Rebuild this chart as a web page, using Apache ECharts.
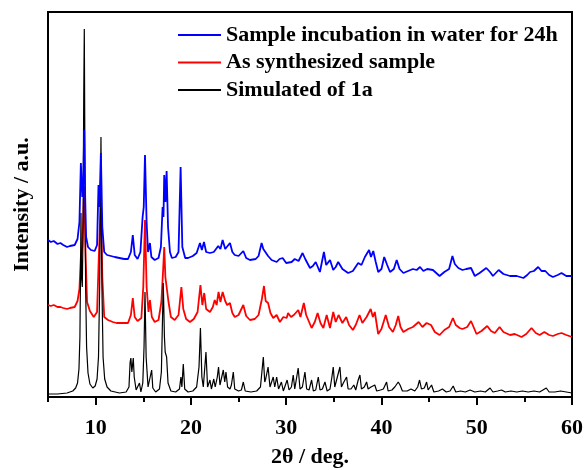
<!DOCTYPE html>
<html>
<head>
<meta charset="utf-8">
<script src="https://cdn.jsdelivr.net/npm/echarts@6/dist/echarts.min.js"></script>
<style>html,body{margin:0;padding:0;background:#fff;}#c{width:585px;height:470px;}</style>
</head>
<body>
<div id="c"></div>
<script>
// Series names (legend order)
const seriesNames = ["Sample incubation in water for 24h", "As synthesized sample", "Simulated of 1a"];
// x-axis tick labels
const majorTicks = [10, 20, 30, 40, 50, 60];
const minorTicks = [5, 15, 25, 35, 45, 55];

// [2θ, intensity (a.u., stacked offset)]
const waterData = [[5.0,157],[5.3,155],[5.6,156],[6.0,153],[6.3,154],[6.6,152],[7.0,150],[7.3,151],[7.5,150],[7.8,152],[8.1,158],[8.3,175],[8.45,234],[8.6,200],[8.7,215],[8.8,267],[8.9,200],[9.0,160],[9.2,150],[9.5,147],[9.9,146],[10.15,152],[10.3,212],[10.4,190],[10.55,244],[10.7,170],[10.9,145],[11.2,142],[11.6,141],[12.0,140],[12.5,139],[13.0,138],[13.4,138],[13.7,145],[13.9,162],[14.1,142],[14.4,138],[14.7,145],[14.93,180],[15.05,190],[15.18,242],[15.35,175],[15.5,145],[15.7,154],[15.85,140],[16.2,137],[16.6,139],[16.85,150],[17.03,190],[17.12,180],[17.2,222],[17.33,195],[17.45,226],[17.6,170],[17.8,145],[18.0,139],[18.4,140],[18.7,145],[18.92,230],[19.1,150],[19.4,139],[19.7,139],[20.2,141],[20.6,144],[20.95,154],[21.15,147],[21.37,155],[21.6,145],[22.0,144],[22.4,145],[22.87,151],[23.1,148],[23.33,157],[23.6,148],[23.8,146],[24.1,154],[24.35,145],[24.6,142],[25.0,141],[25.5,146],[25.8,139],[26.2,137],[26.8,138],[27.1,141],[27.42,154],[27.6,148],[27.77,149],[28.1,141],[28.47,137],[29.0,135],[29.3,138],[29.63,139],[30.0,134],[30.57,135],[30.9,138],[31.3,136],[31.72,144],[32.0,138],[32.5,129],[32.8,131],[33.1,135],[33.54,125],[33.96,145],[34.2,132],[34.6,137],[34.94,127],[35.2,130],[35.46,135],[35.9,128],[36.5,124],[37.0,126],[37.56,134],[37.9,132],[38.26,140],[38.45,138],[38.7,147],[38.9,140],[39.14,146],[39.4,135],[39.66,125],[40.0,128],[40.29,140],[40.6,132],[40.9,125],[41.3,128],[41.6,137],[41.9,128],[42.3,124],[42.8,126],[43.3,128],[43.7,127],[44.05,130],[44.4,126],[44.8,128],[45.4,127],[46.1,121],[46.6,125],[47.1,128],[47.45,141],[47.7,133],[48.07,129],[48.5,127],[48.9,128],[49.4,129],[49.8,121],[50.3,124],[51.0,129],[51.4,125],[51.7,121],[52.3,127],[52.8,123],[53.5,121],[54.2,121],[54.9,119],[55.3,122],[55.6,125],[56.0,126],[56.45,130],[56.8,126],[57.2,126],[57.6,122],[58.0,120],[58.5,122],[58.9,124],[59.4,121],[60.0,121]];

const synthData = [[5.0,92],[5.3,91],[5.6,92],[6.0,90],[6.3,90],[6.6,89],[7.0,88],[7.3,89],[7.5,88],[7.8,90],[8.1,96],[8.3,108],[8.45,140],[8.6,150],[8.8,210],[8.95,140],[9.1,95],[9.4,86],[9.8,80],[10.15,85],[10.3,130],[10.55,200],[10.7,120],[10.9,80],[11.3,77],[11.8,75],[12.2,74],[12.8,74],[13.4,74],[13.7,82],[13.9,99],[14.1,80],[14.4,76],[14.8,79],[15.0,110],[15.18,177],[15.35,110],[15.55,85],[15.7,97],[15.9,80],[16.2,75],[16.6,77],[16.9,95],[17.1,130],[17.2,150],[17.32,120],[17.45,119],[17.65,95],[17.9,80],[18.3,77],[18.7,82],[19.0,110],[19.2,88],[19.5,78],[19.9,75],[20.3,78],[20.7,85],[21.0,112],[21.2,92],[21.4,104],[21.6,88],[22.0,85],[22.3,90],[22.5,97],[22.7,92],[22.9,105],[23.1,95],[23.33,105],[23.6,96],[23.8,92],[24.1,94],[24.35,84],[24.6,80],[25.0,82],[25.5,92],[25.8,81],[26.2,77],[26.7,78],[27.1,82],[27.45,98],[27.67,111],[27.85,96],[28.1,94],[28.35,84],[28.64,79],[29.0,82],[29.34,75],[29.7,80],[30.05,79],[30.2,84],[30.5,80],[30.8,82],[31.27,87],[31.5,80],[31.85,94],[32.1,82],[32.67,69],[33.0,75],[33.3,84],[33.6,74],[33.9,69],[34.25,82],[34.6,69],[34.94,85],[35.2,75],[35.5,82],[35.9,74],[36.3,80],[36.6,72],[37.0,67],[37.3,72],[37.7,82],[38.0,74],[38.44,80],[38.87,88],[39.1,80],[39.3,85],[39.66,63],[40.0,68],[40.45,82],[40.8,70],[41.2,65],[41.5,72],[41.76,81],[42.0,70],[42.3,65],[42.8,68],[43.3,70],[43.9,75],[44.3,70],[44.74,74],[45.2,72],[45.6,65],[46.1,62],[46.6,67],[47.1,70],[47.5,79],[47.8,72],[48.2,69],[48.5,68],[49.0,70],[49.4,76],[49.98,63],[50.5,66],[51.1,71],[51.5,66],[51.9,64],[52.4,70],[52.8,65],[53.5,62],[54.0,63],[54.7,60],[55.2,63],[55.75,69],[56.2,64],[56.6,62],[57.1,65],[57.6,62],[58.0,61],[58.5,63],[58.9,64],[59.4,62],[60.0,60]];

const simData = [[5.0,3],[6.0,3],[7.0,4],[7.6,6],[7.9,9],[8.1,14],[8.25,28],[8.35,60],[8.42,130],[8.46,184],[8.52,120],[8.6,110],[8.68,170],[8.75,300],[8.81,368],[8.88,230],[8.95,110],[9.05,50],[9.2,24],[9.4,13],[9.7,9],[9.95,11],[10.15,18],[10.3,40],[10.42,110],[10.56,260],[10.66,110],[10.78,40],[10.95,18],[11.2,10],[11.6,6],[12.5,4],[13.2,5],[13.5,10],[13.62,35],[13.7,39],[13.8,25],[13.95,39],[14.05,20],[14.25,7],[14.45,6],[14.6,14],[14.75,5],[14.95,14],[15.08,50],[15.18,105],[15.3,40],[15.5,10],[15.7,9],[15.88,27],[16.0,9],[16.3,5],[16.7,8],[16.9,25],[17.0,70],[17.1,114],[17.22,60],[17.3,45],[17.45,40],[17.6,14],[17.9,6],[18.4,5],[18.8,8],[18.95,20],[19.05,10],[19.2,33],[19.35,8],[19.7,5],[20.2,6],[20.6,10],[20.85,30],[21.0,69],[21.15,20],[21.3,10],[21.58,45],[21.75,10],[22.0,17],[22.15,8],[22.4,18],[22.55,10],[22.77,20],[22.9,30],[23.05,12],[23.2,10],[23.4,27],[23.55,15],[23.68,25],[23.85,10],[24.1,8],[24.25,12],[24.45,25],[24.6,8],[25.0,6],[25.3,7],[25.5,15],[25.7,6],[26.3,5],[26.9,6],[27.3,10],[27.6,40],[27.75,15],[27.85,18],[28.1,30],[28.3,10],[28.45,12],[28.64,20],[28.8,10],[29.0,20],[29.2,8],[29.5,15],[29.7,6],[29.9,8],[30.1,17],[30.3,7],[30.55,10],[30.74,22],[30.9,8],[31.1,10],[31.26,29],[31.45,8],[31.7,10],[31.97,25],[32.15,8],[32.4,7],[32.67,17],[32.85,6],[33.1,7],[33.37,20],[33.55,7],[33.8,8],[34.07,15],[34.3,6],[34.6,8],[34.8,20],[34.94,30],[35.1,10],[35.3,12],[35.64,30],[35.8,10],[36.0,14],[36.34,20],[36.5,8],[36.8,8],[37.1,12],[37.3,7],[37.56,17],[37.74,22],[37.9,8],[38.2,10],[38.44,15],[38.6,8],[38.9,10],[39.3,12],[39.5,6],[39.9,7],[40.2,8],[40.54,15],[40.7,6],[41.1,7],[41.4,10],[41.76,15],[41.95,12],[42.2,6],[42.7,6],[43.1,8],[43.5,6],[43.8,10],[44.0,17],[44.2,8],[44.5,9],[44.74,15],[44.9,7],[45.26,12],[45.5,5],[46.0,6],[46.4,8],[46.8,5],[47.2,6],[47.53,11],[47.8,5],[48.3,6],[48.8,5],[49.3,7],[49.8,5],[50.4,6],[50.9,5],[51.4,9],[51.7,5],[52.2,6],[52.6,7],[53.0,5],[53.6,6],[54.2,5],[54.8,6],[55.4,5],[56.0,6],[56.6,5],[57.3,9],[57.6,5],[58.2,5],[58.8,6],[59.4,5],[60.0,4]];

const FONT = '"Liberation Serif", "Times New Roman", serif';
const chart = echarts.init(document.getElementById('c'), null, {renderer: 'canvas'});
chart.setOption({
  animation: false,
  backgroundColor: '#fff',
  grid: {left: 48, right: 13, top: 12, bottom: 73, containLabel: false, outerBoundsMode: 'none', show: true, borderColor: '#000', borderWidth: 2, backgroundColor: 'transparent'},
  legend: {
    data: seriesNames,
    orient: 'vertical',
    left: 178, top: 24, padding: 0,
    icon: 'rect',
    itemWidth: 43, itemHeight: 2, itemGap: 5.5,
    textStyle: {fontFamily: FONT, fontWeight: 'bold', fontSize: 22, color: '#000', lineHeight: 22}
  },
  xAxis: [{
    type: 'value', min: 5, max: 60,
    axisLine: {show: true, lineStyle: {color: '#000', width: 2}},
    axisTick: {show: true, customValues: majorTicks, length: 8, inside: false, lineStyle: {color: '#000', width: 2}},
    axisLabel: {customValues: majorTicks, fontFamily: FONT, fontWeight: 'bold', fontSize: 22, color: '#000', margin: 20},
    splitLine: {show: false},
    name: '2θ / deg.', nameLocation: 'middle', nameGap: 49,
    nameTextStyle: {fontFamily: FONT, fontWeight: 'bold', fontSize: 22, color: '#000'}
  }, {
    type: 'value', min: 5, max: 60, position: 'bottom',
    axisLine: {show: false},
    axisTick: {show: true, customValues: minorTicks, length: 5, lineStyle: {color: '#000', width: 2}},
    axisLabel: {show: false},
    splitLine: {show: false}
  }],
  yAxis: {
    type: 'value', min: 0, max: 385,
    axisLine: {show: true, lineStyle: {color: '#000', width: 2}},
    axisTick: {show: false}, axisLabel: {show: false}, splitLine: {show: false},
    name: 'Intensity / a.u.', nameLocation: 'middle', nameGap: 15,
    nameTextStyle: {fontFamily: FONT, fontWeight: 'bold', fontSize: 22, color: '#000'}
  },
  series: [
    {name: seriesNames[1], type: 'line', data: synthData, symbol: 'none', z: 2, lineStyle: {color: '#ff0000', width: 1.8}, itemStyle: {color: '#ff0000'}},
    {name: seriesNames[2], type: 'line', data: simData, symbol: 'none', z: 3, lineStyle: {color: '#000000', width: 1.2}, itemStyle: {color: '#000000'}},
    {name: seriesNames[0], type: 'line', data: waterData, symbol: 'none', z: 4, lineStyle: {color: '#0000ff', width: 1.8}, itemStyle: {color: '#0000ff'}}
  ]
});
</script>
</body>
</html>
